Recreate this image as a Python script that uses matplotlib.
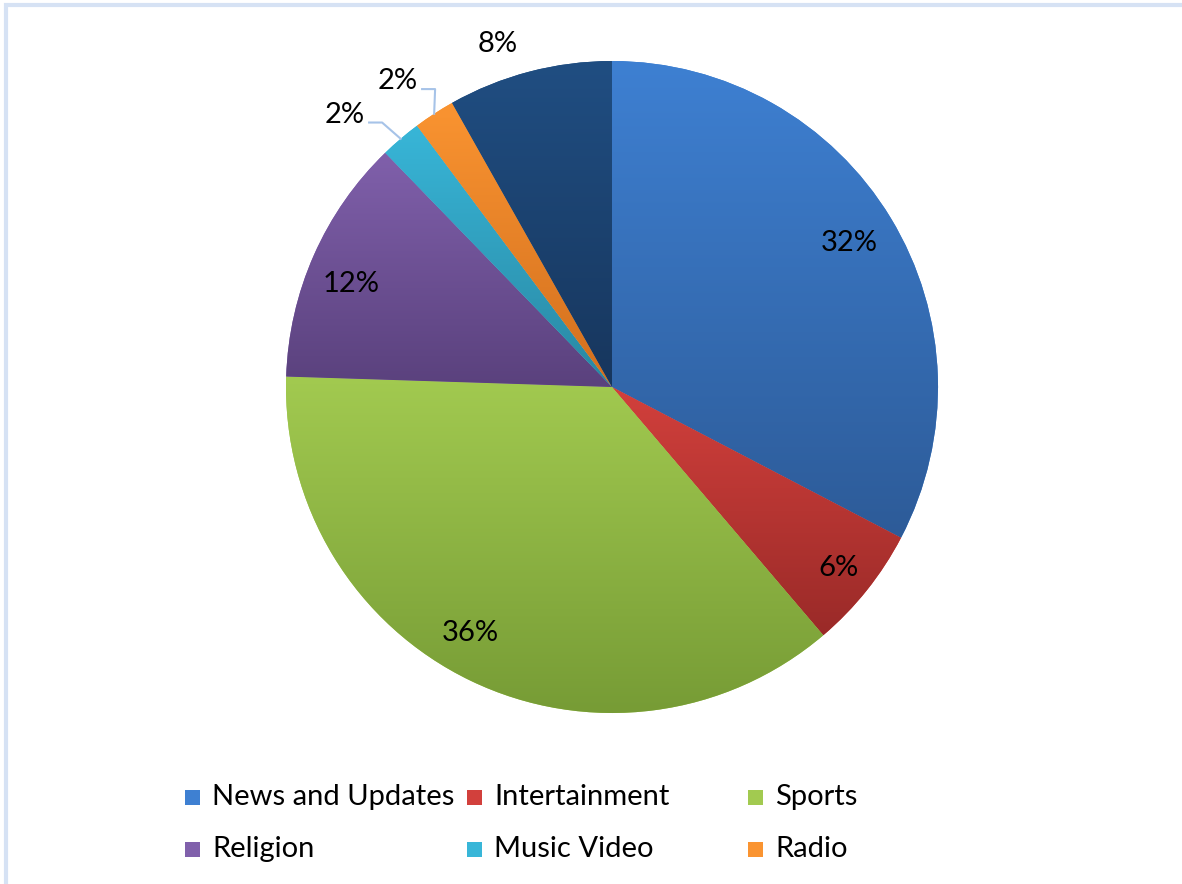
import numpy as np
import matplotlib.pyplot as plt
from matplotlib.colors import LinearSegmentedColormap
from matplotlib.patches import Rectangle

plt.rcParams['font.family'] = ['Lato', 'DejaVu Sans']

# Share of audience interest by content type (%)
categories = ['News and Updates', 'Intertainment', 'Sports', 'Religion',
              'Music Video', 'Radio', 'Other']
values = [32, 6, 36, 12, 2, 2, 8]

# top / bottom colours of each slice's vertical gradient
top_colors = ['#3e80d2', '#d2403c', '#a2ca50', '#8060ab', '#38b6d8', '#fa9431', '#204e82']
bottom_colors = ['#2d5b98', '#9a2a28', '#769b35', '#5a417d', '#2987a2', '#d26f1e', '#17365d']

W, H = 1182, 884
cx, cy, R = 612, H - 387, 326

# label placement: distance from centre (in radii) and angular nudge (deg)
label_r = [0.85, 0.89, 0.87, 0.86, 1.17, 1.145, 1.11]
label_shift = [0, 0, -4.3, 2.4, 4.0, 1.9, 3.8]
with_leader = [False, False, False, False, True, True, False]

fig = plt.figure(figsize=(W / 100, H / 100), dpi=100)
ax = fig.add_axes([0, 0, 1, 1])


def gradient_fill(ax, patch, top, bottom, x0, x1, y0, y1):
    cmap = LinearSegmentedColormap.from_list('g', [bottom, top])
    im = ax.imshow(np.linspace(0, 1, 256).reshape(-1, 1), cmap=cmap,
                   extent=(x0, x1, y0, y1), origin='lower', aspect='auto',
                   interpolation='bilinear', zorder=2)
    im.set_clip_path(patch)


wedges, _ = ax.pie(values, colors=top_colors, startangle=90, counterclock=False,
                   center=(cx, cy), radius=R, frame=True,
                   wedgeprops=dict(linewidth=0))

for w, tc, bc in zip(wedges, top_colors, bottom_colors):
    v = w.get_path().vertices
    gradient_fill(ax, w, tc, bc, v[:, 0].min(), v[:, 0].max(),
                  v[:, 1].min(), v[:, 1].max())

# percentage labels
total = sum(values)
cum = 0
for i, val in enumerate(values):
    mid = 90 - 360 * (cum + val / 2) / total
    cum += val
    ang = np.deg2rad(mid + label_shift[i])
    tx = cx + label_r[i] * R * np.cos(ang)
    ty = cy + label_r[i] * R * np.sin(ang)
    ax.text(tx, ty, f'{val}%', ha='center', va='center', fontsize=21,
            color='black', zorder=5)
    if with_leader[i]:
        ex = cx + R * np.cos(np.deg2rad(mid))
        ey = cy + R * np.sin(np.deg2rad(mid))
        ax.plot([ex, tx + 37, tx + 24], [ey, ty - 8, ty - 8],
                color='#a6c3e8', lw=1.5, zorder=4)

# legend laid out in a fixed grid like the spreadsheet chart
col_x = [185, 467, 748]
row_y = [H - 797, H - 849]
box = 15
for i, name in enumerate(categories[:6]):
    x = col_x[i % 3]
    y = row_y[i // 3]
    sq = Rectangle((x, y - box / 2), box, box, facecolor=top_colors[i],
                   edgecolor='none', zorder=3)
    ax.add_patch(sq)
    gradient_fill(ax, sq, top_colors[i], bottom_colors[i],
                  x, x + box, y - box / 2, y + box / 2)
    ax.text(x + 27, y, name, ha='left', va='center', fontsize=21, color='black')

# chart area border
ax.plot([6, 6, W + 5], [-5, H - 5, H - 5], color='#d6e2f4', lw=3,
        solid_joinstyle='miter', zorder=1)

ax.set_xlim(0, W)
ax.set_ylim(0, H)
ax.set_aspect('equal')
ax.axis('off')

fig.savefig('out.png', dpi=100, facecolor='white')
